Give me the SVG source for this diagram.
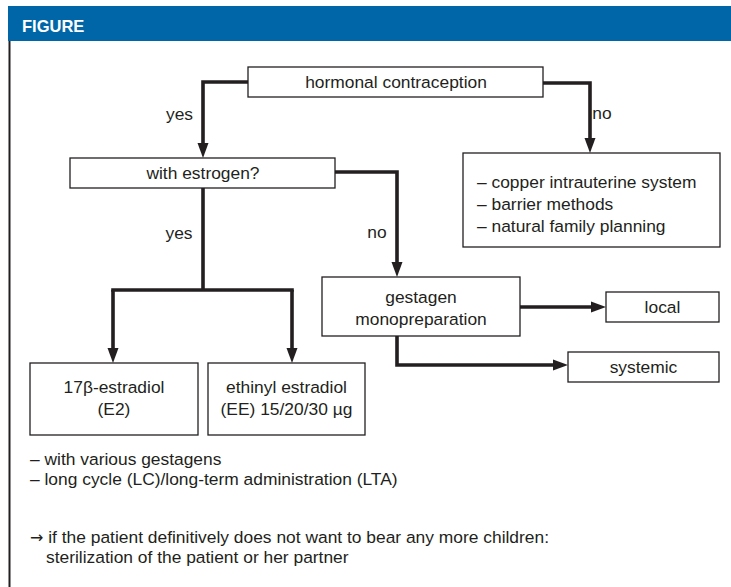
<svg xmlns="http://www.w3.org/2000/svg" width="731" height="587" viewBox="0 0 731 587">
<style>
  text { font-family: "Liberation Sans", Arial, sans-serif; font-size: 17.4px; fill: #231f20; }
  .c { text-anchor: middle; }
  .box { fill: #ffffff; stroke: #231f20; stroke-width: 1.3; }
  .conn { fill: none; stroke: #231f20; stroke-width: 3.6; stroke-linejoin: miter; }
  .title { font-weight: bold; fill: #ffffff; font-size: 16.5px; }
  .arr { font-family: "DejaVu Sans", sans-serif; font-size: 16px; }
</style>
<defs>
  <marker id="ah" markerUnits="userSpaceOnUse" markerWidth="16" markerHeight="12" refX="5" refY="6" orient="auto">
    <path d="M0,0.5 L15,6 L0,11.5 z" fill="#231f20"/>
  </marker>
</defs>
<rect x="0" y="0" width="731" height="587" fill="#ffffff"/>
<g id="header">
  <rect x="8" y="6" width="723" height="35" fill="#0066a8"/>
  <text class="title" x="22" y="32">FIGURE</text>
  <line x1="9.5" y1="41" x2="9.5" y2="587" stroke="#231f20" stroke-width="2"/>
</g>
<g id="connectors">
  <path class="conn" d="M248,82 H203 V148" marker-end="url(#ah)"/>
  <path class="conn" d="M543,83 H590 V143" marker-end="url(#ah)"/>
  <path class="conn" d="M335,172 H397 V267" marker-end="url(#ah)"/>
  <path class="conn" d="M203,188 V290"/>
  <path class="conn" d="M111.2,290 H293.8"/>
  <path class="conn" d="M113,290 V353" marker-end="url(#ah)"/>
  <path class="conn" d="M292,290 V353" marker-end="url(#ah)"/>
  <path class="conn" d="M520,307 H596" marker-end="url(#ah)"/>
  <path class="conn" d="M397,336 V365 H558" marker-end="url(#ah)"/>
  <text class="c" x="179.5" y="120">yes</text>
  <text class="c" x="602" y="119">no</text>
  <text class="c" x="179" y="239">yes</text>
  <text class="c" x="377" y="238">no</text>
</g>
<g id="node-hormonal">
  <rect class="box" x="248" y="67" width="295" height="30"/>
  <text class="c" x="396" y="88">hormonal contraception</text>
</g>
<g id="node-estrogen">
  <rect class="box" x="70" y="158" width="265" height="30"/>
  <text class="c" x="203" y="179">with estrogen?</text>
</g>
<g id="node-nonhormonal">
  <rect class="box" x="463" y="153" width="257" height="94"/>
  <text x="477" y="188">– copper intrauterine system</text>
  <text x="477" y="210">– barrier methods</text>
  <text x="477" y="232">– natural family planning</text>
</g>
<g id="node-gestagen">
  <rect class="box" x="322" y="277" width="198" height="59"/>
  <text class="c" x="421" y="303">gestagen</text>
  <text class="c" x="421" y="325">monopreparation</text>
</g>
<g id="node-local">
  <rect class="box" x="606" y="292" width="113" height="30"/>
  <text class="c" x="662.5" y="313">local</text>
</g>
<g id="node-systemic">
  <rect class="box" x="568" y="352" width="151" height="30"/>
  <text class="c" x="643.5" y="373">systemic</text>
</g>
<g id="node-e2">
  <rect class="box" x="30" y="363" width="168" height="72"/>
  <text class="c" x="114" y="393">17β-estradiol</text>
  <text class="c" x="114" y="415">(E2)</text>
</g>
<g id="node-ee">
  <rect class="box" x="208" y="363" width="157" height="72"/>
  <text class="c" x="286.5" y="393">ethinyl estradiol</text>
  <text class="c" x="286.5" y="415">(EE) 15/20/30 µg</text>
</g>
<g id="notes">
  <text x="30" y="465">– with various gestagens</text>
  <text x="30" y="485">– long cycle (LC)/long-term administration (LTA)</text>
  <text x="30" y="543"><tspan class="arr">→</tspan> if the patient definitively does not want to bear any more children:</text>
  <text x="46" y="563">sterilization of the patient or her partner</text>
</g>
</svg>
